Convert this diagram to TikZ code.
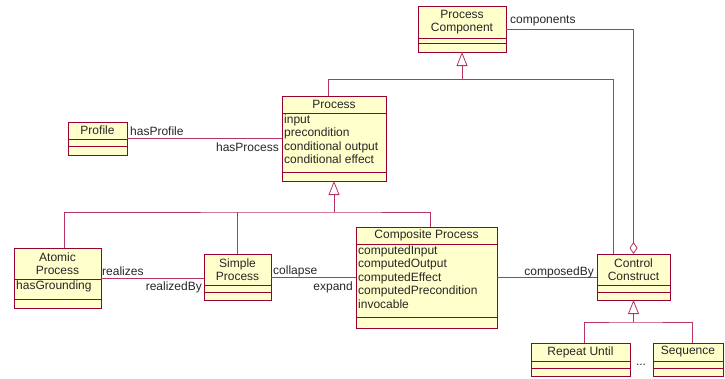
\documentclass[tikz,border=0pt]{standalone}
\usepackage{fontspec}
\setmainfont{Liberation Sans}
\usetikzlibrary{fit,arrows.meta}

\definecolor{umlfill}{RGB}{255,255,204}
\definecolor{umledge}{RGB}{153,0,51}
\definecolor{umlline}{RGB}{184,52,104}

% a class box: name, left, top, right, bottom, end of name part, end of attribute part, title
\newcommand{\umlclass}[8]{%
  \node[classbox, fit={(#2,#3) (#4,#5)}] (#1) {};
  \draw[classrule] (#2,#6) -- (#4,#6);
  \draw[classrule] (#2,#7) -- (#4,#7);
  \node[classname] (#1-name) at ({(#2+#4)/2},{(#3+#6)/2}) {#8};
}

\begin{document}
\begin{tikzpicture}[x=1pt,y=-1pt,
    font=\fontsize{12}{13.4}\selectfont,
    classbox/.style={draw=umledge, fill=umlfill, line width=1pt, inner sep=0pt, outer sep=0pt},
    classrule/.style={draw=umledge, line width=1pt},
    classname/.style={align=center, inner sep=0pt, text=black!85},
    attrlist/.style={anchor=north west, align=left, inner sep=1pt, text=black!85},
    role/.style={inner sep=1pt, text=black!85},
    conn/.style={draw=umlline, line width=0.8pt},
    gentip/.style={-{Triangle[open, length=14pt, width=11pt]}},
    aggtip/.style={-{Diamond[open, length=12pt, width=8pt]}}]

\useasboundingbox (0,0) rectangle (725,378);

% The classes
\umlclass{pc}{418}{6}{506}{52}{38}{43}{Process\\Component}
\umlclass{profile}{68}{122}{127}{155}{139}{146}{Profile}
\umlclass{process}{282}{96}{386}{181}{113}{172}{Process}
\umlclass{atomic}{14}{248}{101}{308}{279}{299}{Atomic\\Process}
\umlclass{simple}{204}{254}{271}{300}{285}{292}{Simple\\Process}
\umlclass{composite}{356}{227}{497}{328}{244}{317}{Composite Process}
\umlclass{control}{597}{254}{670}{300}{285}{292}{Control\\Construct}
\umlclass{repeat}{531}{343}{630}{376}{361}{368}{Repeat Until}
\umlclass{sequence}{653}{343}{723}{376}{361}{368}{Sequence}

% Attributes
\node[attrlist] (process-attr) at (283,113.5) {input\\precondition\\conditional output\\conditional effect};
\node[attrlist] (atomic-attr) at (15,279.5) {hasGrounding};
\node[attrlist] (composite-attr) at (357,244.5) {computedInput\\computedOutput\\computedEffect\\computedPrecondition\\invocable};

% Process Component and its subclasses
\coordinate (gen1) at (462,79);
\draw[conn] ([xshift=-6pt]process.north) |- ([xshift=-20pt]control.north |- gen1)
    -- ([xshift=-20pt]control.north);
\draw[conn, gentip] (gen1) -- (pc);

% Process and its subclasses
\coordinate (gen2) at (334,212);
\draw[conn] ([xshift=7pt]atomic.north) |- (gen2) -| ([xshift=4pt]composite.north);
\draw[conn] (simple.north) -- (simple.north |- gen2);
\draw[conn, gentip] (gen2) -- (process);

% Control Construct and its subclasses
\coordinate (gen3) at (633.5,322);
\draw[conn] ([xshift=4pt]repeat.north) |- (gen3) -| ([xshift=4pt]sequence.north);
\draw[conn, gentip] (gen3) -- (control);
\node[role] (dots) at (641,365) {...};

% Associations
\draw[conn, aggtip] (pc.east) -| (control.north);
\draw[conn] (profile) -- (process);
\draw[conn] (atomic.east) -- (atomic.east -| simple.west);
\draw[conn] (simple.east) -- (simple.east -| composite.west);
\draw[conn] (composite.east) -- (composite.east -| control.west);

% Role names
\node[role, anchor=west] (r-comp) at (509,21) {components};
\node[role, anchor=west] (r-hasprofile) at (129,131) {hasProfile};
\node[role, anchor=east] (r-hasprocess) at (280,147) {hasProcess};
\node[role, anchor=west] (r-realizes) at (101,271) {realizes};
\node[role, anchor=east] (r-realizedby) at (203,287) {realizedBy};
\node[role, anchor=west] (r-collapse) at (272,271) {collapse};
\node[role, anchor=east] (r-expand) at (354,287) {expand};
\node[role, anchor=east] (r-composedby) at (595,272) {composedBy};
\end{tikzpicture}
\end{document}
